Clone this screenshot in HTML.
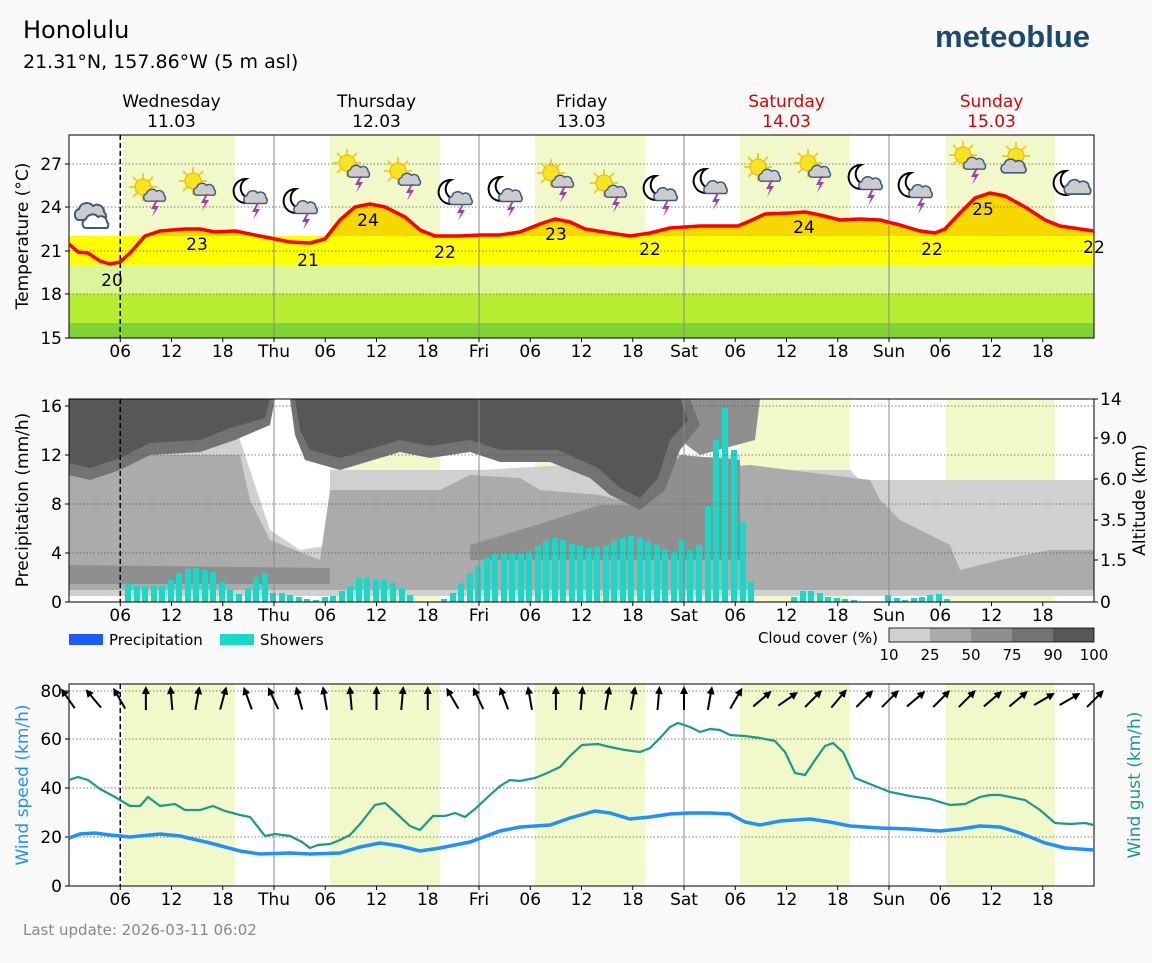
<!DOCTYPE html>
<html><head><meta charset="utf-8"><style>
html,body{margin:0;padding:0;background:#f9f9f9}
svg{display:block;font-family:"DejaVu Sans","Liberation Sans",sans-serif}
</style></head><body>
<svg id="s" width="1152" height="963" viewBox="0 0 1152 963" xmlns="http://www.w3.org/2000/svg">
<defs>
<g id="cl"><path d="M-13,6 a6,6 0 0 1 1,-11 a8,8 0 0 1 14,-3 a7,7 0 0 1 11,6 a5,5 0 0 1 0,8 z" fill="#ccc" stroke="#3a5a80" stroke-width="2"/></g>
<g id="bolt"><path d="M1,2 l-5,9 h4 l-3,8 l7,-11 h-4 l3,-6z" fill="#a040b0"/></g>
<g id="sun"><g stroke="#f0d020" stroke-width="2"><line x1="-14" y1="0" x2="14" y2="0"/><line x1="0" y1="-14" x2="0" y2="14"/><line x1="-10" y1="-10" x2="10" y2="10"/><line x1="-10" y1="10" x2="10" y2="-10"/></g><circle r="8" fill="#f6e51a" stroke="#f0b020" stroke-width="1"/></g>
<g id="st"><use href="#sun" x="-4" y="-5"/><g transform="translate(8,5) scale(0.7)"><use href="#cl"/></g><use href="#bolt" x="8" y="6"/></g>
<g id="mt"><path d="M-4,-14 a12,12 0 1 0 10,18 a10,10 0 0 1 -10,-18z" fill="#fff" stroke="#000" stroke-width="2"/><g transform="translate(6,6) scale(0.75)"><use href="#cl"/></g><use href="#bolt" x="6" y="8"/></g>
<g id="mc"><path d="M-4,-14 a12,12 0 1 0 10,18 a10,10 0 0 1 -10,-18z" fill="#fff" stroke="#000" stroke-width="2"/><g transform="translate(8,4) scale(0.85)"><use href="#cl"/></g></g>
<g id="cc"><use href="#cl" x="-4" y="-4"/><path d="M-10,10 a5,5 0 0 1 1,-9 a7,7 0 0 1 12,-2 a6,6 0 0 1 9,5 a4,4 0 0 1 0,6 z" fill="#fff" stroke="#3a5a80" stroke-width="2"/></g>
<g id="sc"><use href="#sun" x="-2" y="-6"/><g transform="translate(-4,6) scale(0.8)"><use href="#cl"/></g></g>
<marker id="ah" viewBox="0 0 10 10" refX="5" refY="5" markerWidth="4" markerHeight="4" orient="auto"><path d="M0,0 L10,5 L0,10 z" fill="#000"/></marker>
</defs>
<rect width="1152" height="963" fill="#f9f9f9"/>
<text x="23" y="38" font-size="24">Honolulu</text>
<text x="23" y="68" font-size="19">21.31°N, 157.86°W (5 m asl)</text>
<text x="935" y="47" font-size="31" fill="#1a4a72" font-family="Liberation Sans,sans-serif" font-weight="bold">meteoblue</text>
<g id="hdr" font-size="17" text-anchor="middle"></g>
<g id="p1"></g><g id="p2"></g><g id="p3"></g>
<text x="23" y="935" font-size="15" fill="#888">Last update: 2026-03-11 06:02</text>
</svg>
<script>
const NS="http://www.w3.org/2000/svg";
function el(p,t,a,txt){const e=document.createElementNS(NS,t);for(const k in a)e.setAttribute(k,a[k]);if(txt!=null)e.textContent=txt;p.appendChild(e);return e;}
const L=69,R=1094,DW=205;
const hx=h=>L+h*DW/24;
const days=[["Wednesday","11.03","#000"],["Thursday","12.03","#000"],["Friday","13.03","#000"],["Saturday","14.03","#d00"],["Sunday","15.03","#d00"]];
const hdr=document.getElementById("hdr");
days.forEach((d,i)=>{const x=hx(24*i+12);el(hdr,"text",{x:x,y:107,fill:d[2]},d[0]);el(hdr,"text",{x:x,y:127,fill:d[2]},d[1]);});
const bands=[[123,235],[330,440],[535,645],[740,850],[946,1055]];
function frame(g,T,B,dots){
  el(g,"rect",{x:L,y:T,width:R-L,height:B-T,fill:"#fff"});
  bands.forEach(b=>el(g,"rect",{x:b[0],y:T,width:b[1]-b[0],height:B-T,fill:"#f1f8c9"}));
}
function grid(g,T,B,dots){
  dots.forEach(y=>el(g,"line",{x1:L,x2:R,y1:y,y2:y,stroke:"#555","stroke-width":0.8,"stroke-dasharray":"1.5,2"}));
  for(let d=1;d<5;d++)el(g,"line",{x1:hx(24*d),x2:hx(24*d),y1:T,y2:B,stroke:"#888","stroke-width":1});
  el(g,"line",{x1:hx(6),x2:hx(6),y1:T,y2:B,stroke:"#000","stroke-width":1.5,"stroke-dasharray":"5,3"});
  el(g,"rect",{x:L,y:T,width:R-L,height:B-T,fill:"none",stroke:"#000","stroke-width":1});
  const nm=["","Thu","Fri","Sat","Sun"];
  for(let d=0;d<5;d++)for(let h=0;h<24;h+=6){if(d==0&&h==0)continue;const x=hx(24*d+h);
    el(g,"line",{x1:x,x2:x,y1:B,y2:B+4,stroke:"#000"});
    el(g,"text",{x:x,y:B+19,"font-size":17,"text-anchor":"middle"},h==0?nm[d]:String(h).padStart(2,"0"));}
}
function pts(a){return a.map(p=>p.join(",")).join(" ");}
function ylab(g,x,y,t,c){el(g,"text",{x:x,y:y,"font-size":17,"text-anchor":"middle",fill:c||"#000",transform:`rotate(-90 ${x} ${y})`},t);}
// Panel 1
const p1=document.getElementById("p1");const T1=135,B1=338;
frame(p1,T1,B1);
const tc=[[69,244],[78,252],[88,253],[100,261],[110,264],[120,262],[130,253],[145,236],[160,231],[185,229],[200,229],[215,232],[235,231],[260,236],[290,242],[310,243],[325,239],[340,220],[355,207],[370,204],[385,207],[405,217],[420,230],[435,236],[460,236],[480,235],[500,235],[520,232],[540,224],[555,219],[570,222],[585,229],[610,233],[630,236],[650,233],[670,228],[700,226],[720,226],[738,226],[750,221],[765,214],[790,213],[805,212],[820,215],[840,220],[860,219],[880,220],[900,225],[920,231],[935,233],[945,229],[960,213],[975,198],[990,193],[1005,196],[1025,207],[1045,220],[1060,226],[1080,229],[1094,231]];
el(p1,"polygon",{points:pts([[69,338],...tc,[1094,338]]),fill:"#f6d800"});
el(p1,"rect",{x:L,y:236,width:R-L,height:29,fill:"#ffff00"});
el(p1,"rect",{x:L,y:265,width:R-L,height:29,fill:"#dcf59a"});
el(p1,"rect",{x:L,y:294,width:R-L,height:29,fill:"#b6ec32"});
el(p1,"rect",{x:L,y:323,width:R-L,height:15,fill:"#7fd334"});
grid(p1,T1,B1,[164,207,251,294]);
el(p1,"polyline",{points:pts(tc),fill:"none",stroke:"#f00","stroke-width":3.5,"stroke-linejoin":"round"});
[[27,164],[24,207],[21,251],[18,294],[15,338]].forEach(t=>{el(p1,"text",{x:62,y:t[1]+6,"font-size":17,"text-anchor":"end"},t[0]);el(p1,"line",{x1:L-4,x2:L,y1:t[1],y2:t[1],stroke:"#000"});});
ylab(p1,28,236,"Temperature (°C)");
[[20,112,286],[23,197,250],[21,308,266],[24,368,226],[22,445,258],[23,556,240],[22,650,255],[24,804,233],[22,932,255],[25,983,215],[22,1094,253]].forEach(t=>el(p1,"text",{x:t[1],y:t[2],"font-size":17,"text-anchor":"middle"},t[0]));
const ic=[["cc",95,218],["st",147,192],["st",197,186],["mt",250,193],["mt",300,203],["st",351,168],["st",402,176],["mt",455,194],["mt",505,191],["st",555,178],["st",608,188],["mt",660,190],["mt",710,183],["st",762,172],["st",812,168],["mt",865,179],["mt",915,187],["st",967,160],["sc",1018,162],["mc",1070,185]];
ic.forEach(i=>el(p1,"use",{href:"#"+i[0],x:i[1],y:i[2]}));
// Panel 2
const p2=document.getElementById("p2");const T2=399,B2=602;
frame(p2,T2,B2);
const cg=el(p2,"g",{});
el(cg,"polygon",{points:"69,425 235,425 250,470 270,530 300,550 330,545 330,470 480,470 740,455 740,470 850,470 860,480 1094,480 1094,596 69,596",fill:"#d0d0d0"});
el(cg,"polygon",{points:"69,455 240,455 250,500 270,540 320,560 330,490 440,490 470,475 520,478 540,490 600,495 640,505 680,470 750,465 870,480 880,500 900,520 950,545 960,570 1000,560 1050,550 1094,550 1094,590 69,590",fill:"#ababab"});
el(cg,"polygon",{points:"69,565 330,568 330,584 69,584",fill:"#8f8f8f"});
el(cg,"polygon",{points:"470,545 520,530 600,505 640,505 680,455 740,460 740,560 470,560",fill:"#8f8f8f"});
el(cg,"polygon",{points:"680,399 760,399 755,440 700,455 680,440",fill:"#8f8f8f"});
el(cg,"polygon",{points:"69,399 275,399 270,425 235,440 200,452 150,455 120,470 90,480 69,475",fill:"#737373"});
el(cg,"polygon",{points:"290,399 690,399 700,425 680,450 665,490 640,510 610,495 590,478 550,462 500,462 470,452 430,458 400,452 340,470 305,460 295,435",fill:"#737373"});
el(cg,"polygon",{points:"69,399 270,399 265,418 230,428 200,440 150,443 120,458 90,468 69,463",fill:"#575757"});
el(cg,"polygon",{points:"295,399 680,399 688,420 670,440 658,478 640,498 620,488 598,468 558,450 500,450 470,440 430,446 400,440 340,458 310,450 300,430",fill:"#575757"});
const bars=[[128,584],[137,586],[145,586],[154,586],[162,586],[171,580],[179,573],[188,569],[196,568],[205,570],[213,572],[222,582],[230,590],[239,594],[248,588],[256,577],[265,573],[273,593],[282,593],[290,595],[299,597],[307,599],[316,600],[325,597],[333,596],[342,591],[350,586],[359,578],[367,578],[376,579],[384,580],[393,583],[402,588],[410,595],[444,599],[453,593],[461,583],[470,573],[478,566],[487,558],[495,554],[504,553],[512,553],[521,553],[529,551],[538,546],[546,541],[555,538],[563,540],[572,544],[580,546],[589,548],[597,547],[606,546],[614,541],[623,538],[631,536],[640,538],[648,541],[657,545],[665,549],[674,552],[682,540],[690,550],[699,545],[708,506],[716,440],[725,408],[734,450],[743,522],[751,582],[794,597],[803,591],[811,591],[820,593],[828,597],[837,598],[845,599],[854,600],[888,595],[897,598],[905,600],[914,598],[922,597],[930,595],[939,594],[947,599]];
bars.forEach(b=>el(p2,"rect",{x:b[0]-3,y:b[1],width:6,height:B2-b[1],fill:"#18d8c8"}));
grid(p2,T2,B2,[406,455,504,553]);
[[16,406],[12,455],[8,504],[4,553],[0,602]].forEach(t=>{el(p2,"text",{x:62,y:t[1]+6,"font-size":17,"text-anchor":"end"},t[0]);el(p2,"line",{x1:L-4,x2:L,y1:t[1],y2:t[1],stroke:"#000"});});
[["14",399],["9.0",438],["6.0",479],["3.5",520],["1.5",560],["0",602]].forEach(t=>{el(p2,"text",{x:1100,y:t[1]+6,"font-size":17},t[0]);el(p2,"line",{x1:R,x2:R+4,y1:t[1],y2:t[1],stroke:"#000"});});
ylab(p2,28,500,"Precipitation (mm/h)");ylab(p2,1145,500,"Altitude (km)");
el(p2,"rect",{x:69,y:634,width:34,height:11,fill:"#1a5cff"});el(p2,"text",{x:109,y:645,"font-size":15},"Precipitation");
el(p2,"rect",{x:220,y:634,width:34,height:11,fill:"#18d8c8"});el(p2,"text",{x:260,y:645,"font-size":15},"Showers");
el(p2,"text",{x:878,y:643,"font-size":15,"text-anchor":"end"},"Cloud cover (%)");
["#d0d0d0","#ababab","#8f8f8f","#737373","#575757"].forEach((c,i)=>el(p2,"rect",{x:889+41*i,y:628,width:41,height:14,fill:c}));
el(p2,"rect",{x:889,y:628,width:205,height:14,fill:"none",stroke:"#000","stroke-width":0.8});
["10","25","50","75","90","100"].forEach((t,i)=>el(p2,"text",{x:889+41*i,y:660,"font-size":15,"text-anchor":"middle"},t));
// Panel 3
const p3=document.getElementById("p3");const T3=684,B3=886;
frame(p3,T3,B3);
grid(p3,T3,B3,[691,739,788,837]);
[[80,691],[60,739],[40,788],[20,837],[0,886]].forEach(t=>{el(p3,"text",{x:62,y:t[1]+6,"font-size":17,"text-anchor":"end"},t[0]);el(p3,"line",{x1:L-4,x2:L,y1:t[1],y2:t[1],stroke:"#000"});});
ylab(p3,28,785,"Wind speed (km/h)","#1e90ff");ylab(p3,1140,785,"Wind gust (km/h)","#1a9a8a");
const ws=[[69,838],[80,834],[95,833],[110,835],[130,837],[160,834],[180,836],[210,843],[240,851],[260,854],[290,853],[310,854],[340,853],[360,847],[380,843],[400,846],[420,851],[440,848],[470,842],[500,831],[520,827],[550,825],[570,818],[595,811],[610,813],[630,819],[650,817],[670,814],[690,813],[710,813],[730,814],[745,822],[760,825],[780,821],[810,819],[830,822],[850,826],[880,828],[910,829],[940,831],[960,829],[980,826],[1000,827],[1020,833],[1045,843],[1065,848],[1094,850]];
const wg=[[69,780],[78,777],[88,780],[100,789],[115,797],[130,806],[140,806],[148,797],[160,806],[175,804],[185,810],[200,810],[213,806],[225,811],[240,815],[250,817],[265,836],[275,834],[290,836],[302,842],[310,848],[318,845],[330,844],[340,840],[350,835],[360,824],[375,805],[385,803],[395,812],[410,826],[420,830],[433,816],[445,816],[455,813],[465,817],[475,809],[490,795],[500,786],[510,780],[520,781],[535,778],[545,774],[560,767],[570,756],[582,745],[598,744],[610,747],[625,750],[640,752],[650,748],[660,738],[670,727],[678,723],[690,727],[700,732],[710,729],[720,730],[730,735],[745,736],[760,738],[775,741],[785,752],[795,773],[805,775],[815,760],[825,746],[833,743],[843,752],[855,778],[870,784],[890,792],[910,796],[930,799],[950,805],[965,804],[980,797],[990,795],[1000,795],[1010,797],[1025,800],[1040,810],[1055,823],[1070,824],[1085,823],[1094,825]];
el(p3,"polyline",{points:pts(wg),fill:"none",stroke:"#1a9a8a","stroke-width":2.2});
el(p3,"polyline",{points:pts(ws),fill:"none",stroke:"#1e90ff","stroke-width":3.5});
const ang=[-35,-40,-30,0,-5,10,15,-20,-25,-15,-10,-5,0,5,0,-30,-25,-20,-10,0,5,10,10,5,0,10,30,50,55,45,40,45,45,50,45,45,50,50,60,60,45];
ang.forEach((a,i)=>{const x=L+i*DW/8,y=700,r=a*Math.PI/180,dx=Math.sin(r)*10,dy=-Math.cos(r)*10;
  el(p3,"line",{x1:x-dx,y1:y-dy,x2:x+dx,y2:y+dy,stroke:"#000","stroke-width":2,"marker-end":"url(#ah)"});});
</script>
</body></html>
